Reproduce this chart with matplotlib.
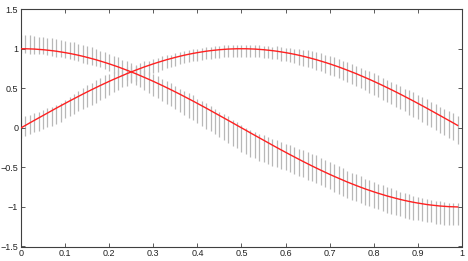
import matplotlib
matplotlib.use('Agg')
import matplotlib.pyplot as plt
import numpy as np

# --- data ---
x = [0.00, 0.01, 0.02, 0.03, 0.04, 0.05, 0.06, 0.07, 0.08, 0.09,
     0.10, 0.11, 0.12, 0.13, 0.14, 0.15, 0.16, 0.17, 0.18, 0.19,
     0.20, 0.21, 0.22, 0.23, 0.24, 0.25, 0.26, 0.27, 0.28, 0.29,
     0.30, 0.31, 0.32, 0.33, 0.34, 0.35, 0.36, 0.37, 0.38, 0.39,
     0.40, 0.41, 0.42, 0.43, 0.44, 0.45, 0.46, 0.47, 0.48, 0.49,
     0.50, 0.51, 0.52, 0.53, 0.54, 0.55, 0.56, 0.57, 0.58, 0.59,
     0.60, 0.61, 0.62, 0.63, 0.64, 0.65, 0.66, 0.67, 0.68, 0.69,
     0.70, 0.71, 0.72, 0.73, 0.74, 0.75, 0.76, 0.77, 0.78, 0.79,
     0.80, 0.81, 0.82, 0.83, 0.84, 0.85, 0.86, 0.87, 0.88, 0.89,
     0.90, 0.91, 0.92, 0.93, 0.94, 0.95, 0.96, 0.97, 0.98, 0.99]

rise = [0.000, 0.031, 0.063, 0.094, 0.125, 0.156, 0.187, 0.218, 0.249, 0.279,
        0.309, 0.339, 0.368, 0.397, 0.426, 0.454, 0.482, 0.509, 0.536, 0.562,
        0.588, 0.613, 0.637, 0.661, 0.685, 0.707, 0.729, 0.750, 0.771, 0.790,
        0.809, 0.827, 0.844, 0.861, 0.876, 0.891, 0.905, 0.918, 0.930, 0.941,
        0.951, 0.960, 0.969, 0.976, 0.982, 0.988, 0.992, 0.996, 0.998, 1.000,
        1.000, 1.000, 0.998, 0.996, 0.992, 0.988, 0.982, 0.976, 0.969, 0.960,
        0.951, 0.941, 0.930, 0.918, 0.905, 0.891, 0.876, 0.861, 0.844, 0.827,
        0.809, 0.790, 0.771, 0.750, 0.729, 0.707, 0.685, 0.661, 0.637, 0.613,
        0.588, 0.562, 0.536, 0.509, 0.482, 0.454, 0.426, 0.397, 0.368, 0.339,
        0.309, 0.279, 0.249, 0.218, 0.187, 0.156, 0.125, 0.094, 0.063, 0.031]

fall = [1.000, 1.000, 0.998, 0.996, 0.992, 0.988, 0.982, 0.976, 0.969, 0.960,
        0.951, 0.941, 0.930, 0.918, 0.905, 0.891, 0.876, 0.861, 0.844, 0.827,
        0.809, 0.790, 0.771, 0.750, 0.729, 0.707, 0.685, 0.661, 0.637, 0.613,
        0.588, 0.562, 0.536, 0.509, 0.482, 0.454, 0.426, 0.397, 0.368, 0.339,
        0.309, 0.279, 0.249, 0.218, 0.187, 0.156, 0.125, 0.094, 0.063, 0.031,
        0.000, -0.031, -0.063, -0.094, -0.125, -0.156, -0.187, -0.218, -0.249, -0.279,
        -0.309, -0.339, -0.368, -0.397, -0.426, -0.454, -0.482, -0.509, -0.536, -0.562,
        -0.588, -0.613, -0.637, -0.661, -0.685, -0.707, -0.729, -0.750, -0.771, -0.790,
        -0.809, -0.827, -0.844, -0.861, -0.876, -0.891, -0.905, -0.918, -0.930, -0.941,
        -0.951, -0.960, -0.969, -0.976, -0.982, -0.988, -0.992, -0.996, -0.998, -1.000]

# error bar extents below / above each point
rise_lo = [0.13, 0.13, 0.14, 0.15, 0.16, 0.17, 0.18, 0.19, 0.20, 0.20,
           0.19, 0.19, 0.19, 0.19, 0.19, 0.19, 0.19, 0.19, 0.19, 0.18,
           0.17, 0.16, 0.16, 0.15, 0.15, 0.14, 0.14, 0.13, 0.13, 0.12,
           0.12, 0.12, 0.11, 0.11, 0.11, 0.11, 0.10, 0.10, 0.10, 0.10,
           0.10, 0.10, 0.10, 0.10, 0.10, 0.10, 0.10, 0.10, 0.10, 0.10,
           0.10, 0.10, 0.10, 0.10, 0.10, 0.10, 0.10, 0.10, 0.10, 0.11,
           0.11, 0.11, 0.11, 0.12, 0.12, 0.12, 0.12, 0.13, 0.13, 0.13,
           0.14, 0.14, 0.14, 0.15, 0.15, 0.15, 0.16, 0.16, 0.16, 0.17,
           0.17, 0.17, 0.18, 0.18, 0.18, 0.19, 0.19, 0.19, 0.20, 0.20,
           0.20, 0.21, 0.21, 0.21, 0.22, 0.22, 0.22, 0.22, 0.22, 0.23]
rise_hi = [0.13, 0.12, 0.10, 0.09, 0.08, 0.07, 0.06, 0.05, 0.04, 0.03,
           0.04, 0.05, 0.06, 0.07, 0.08, 0.09, 0.09, 0.10, 0.10, 0.10,
           0.09, 0.09, 0.09, 0.08, 0.08, 0.08, 0.07, 0.07, 0.07, 0.06,
           0.06, 0.06, 0.06, 0.06, 0.05, 0.05, 0.05, 0.05, 0.05, 0.05,
           0.05, 0.05, 0.05, 0.05, 0.05, 0.05, 0.05, 0.05, 0.05, 0.05,
           0.05, 0.05, 0.05, 0.05, 0.05, 0.05, 0.05, 0.05, 0.06, 0.06,
           0.06, 0.07, 0.07, 0.08, 0.08, 0.09, 0.09, 0.10, 0.10, 0.10,
           0.10, 0.10, 0.10, 0.10, 0.10, 0.10, 0.10, 0.10, 0.10, 0.10,
           0.10, 0.10, 0.10, 0.10, 0.10, 0.10, 0.10, 0.10, 0.11, 0.11,
           0.11, 0.11, 0.11, 0.11, 0.11, 0.11, 0.11, 0.12, 0.12, 0.12]
fall_lo = [0.06, 0.06, 0.06, 0.06, 0.06, 0.06, 0.06, 0.07, 0.07, 0.07,
           0.07, 0.07, 0.07, 0.07, 0.08, 0.08, 0.08, 0.08, 0.08, 0.08,
           0.09, 0.10, 0.10, 0.11, 0.12, 0.13, 0.14, 0.15, 0.16, 0.17,
           0.18, 0.19, 0.20, 0.21, 0.21, 0.22, 0.23, 0.23, 0.24, 0.24,
           0.25, 0.25, 0.26, 0.26, 0.27, 0.27, 0.28, 0.28, 0.29, 0.29,
           0.30, 0.30, 0.30, 0.29, 0.29, 0.28, 0.27, 0.26, 0.25, 0.24,
           0.23, 0.22, 0.21, 0.21, 0.20, 0.20, 0.19, 0.19, 0.19, 0.19,
           0.19, 0.20, 0.20, 0.20, 0.20, 0.20, 0.20, 0.20, 0.20, 0.20,
           0.20, 0.20, 0.21, 0.21, 0.21, 0.21, 0.21, 0.22, 0.22, 0.22,
           0.22, 0.22, 0.22, 0.22, 0.23, 0.23, 0.23, 0.23, 0.23, 0.23]
fall_hi = [0.17, 0.17, 0.17, 0.17, 0.16, 0.16, 0.16, 0.16, 0.16, 0.15,
           0.15, 0.15, 0.15, 0.14, 0.14, 0.14, 0.14, 0.13, 0.13, 0.13,
           0.12, 0.12, 0.12, 0.11, 0.11, 0.11, 0.10, 0.10, 0.10, 0.09,
           0.09, 0.09, 0.08, 0.08, 0.08, 0.08, 0.07, 0.07, 0.07, 0.07,
           0.06, 0.06, 0.06, 0.06, 0.05, 0.05, 0.05, 0.05, 0.04, 0.04,
           0.04, 0.03, 0.03, 0.04, 0.05, 0.06, 0.07, 0.08, 0.09, 0.10,
           0.11, 0.12, 0.12, 0.13, 0.14, 0.15, 0.15, 0.16, 0.16, 0.16,
           0.16, 0.15, 0.15, 0.15, 0.14, 0.14, 0.14, 0.14, 0.13, 0.13,
           0.13, 0.12, 0.12, 0.11, 0.11, 0.10, 0.10, 0.09, 0.09, 0.08,
           0.08, 0.07, 0.07, 0.07, 0.06, 0.06, 0.06, 0.05, 0.05, 0.05]

x_ticks = [0, 0.1, 0.2, 0.3, 0.4, 0.5, 0.6, 0.7, 0.8, 0.9, 1]
x_tick_labels = ['0', '0.1', '0.2', '0.3', '0.4', '0.5', '0.6', '0.7', '0.8', '0.9', '1']
y_ticks = [-1.5, -1, -0.5, 0, 0.5, 1, 1.5]
y_tick_labels = ['\u22121.5', '\u22121', '\u22120.5', '0', '0.5', '1', '1.5']

plt.rcParams['font.family'] = ['Liberation Sans', 'DejaVu Sans']

fig = plt.figure(figsize=(4.68, 2.61), dpi=100)
ax = fig.add_axes([21 / 468, 1 - 246.5 / 261, 441 / 468, 237.3 / 261])

bar_color = '#b8b8b8'
for yv, lo, hi in [(rise, rise_lo, rise_hi), (fall, fall_lo, fall_hi)]:
    ax.errorbar(x, yv, yerr=[lo, hi], fmt='none', ecolor=bar_color,
                elinewidth=0.9, capsize=0, zorder=1)
for yv in [rise, fall]:
    ax.plot(x, yv, color='#ff2020', linewidth=1.0, zorder=3)

ax.set_xlim(0, 1)
ax.set_ylim(-1.5, 1.5)
ax.set_xticks(x_ticks)
ax.set_xticklabels(x_tick_labels)
ax.set_yticks(y_ticks)
ax.set_yticklabels(y_tick_labels)
ax.tick_params(direction='in', length=3, width=0.6, color='#404040',
               labelsize=6.5, labelcolor='#222222', top=True, right=True, pad=2)
for s in ax.spines.values():
    s.set_color('#404040')
    s.set_linewidth(0.8)

fig.savefig('out.png', dpi=100)
